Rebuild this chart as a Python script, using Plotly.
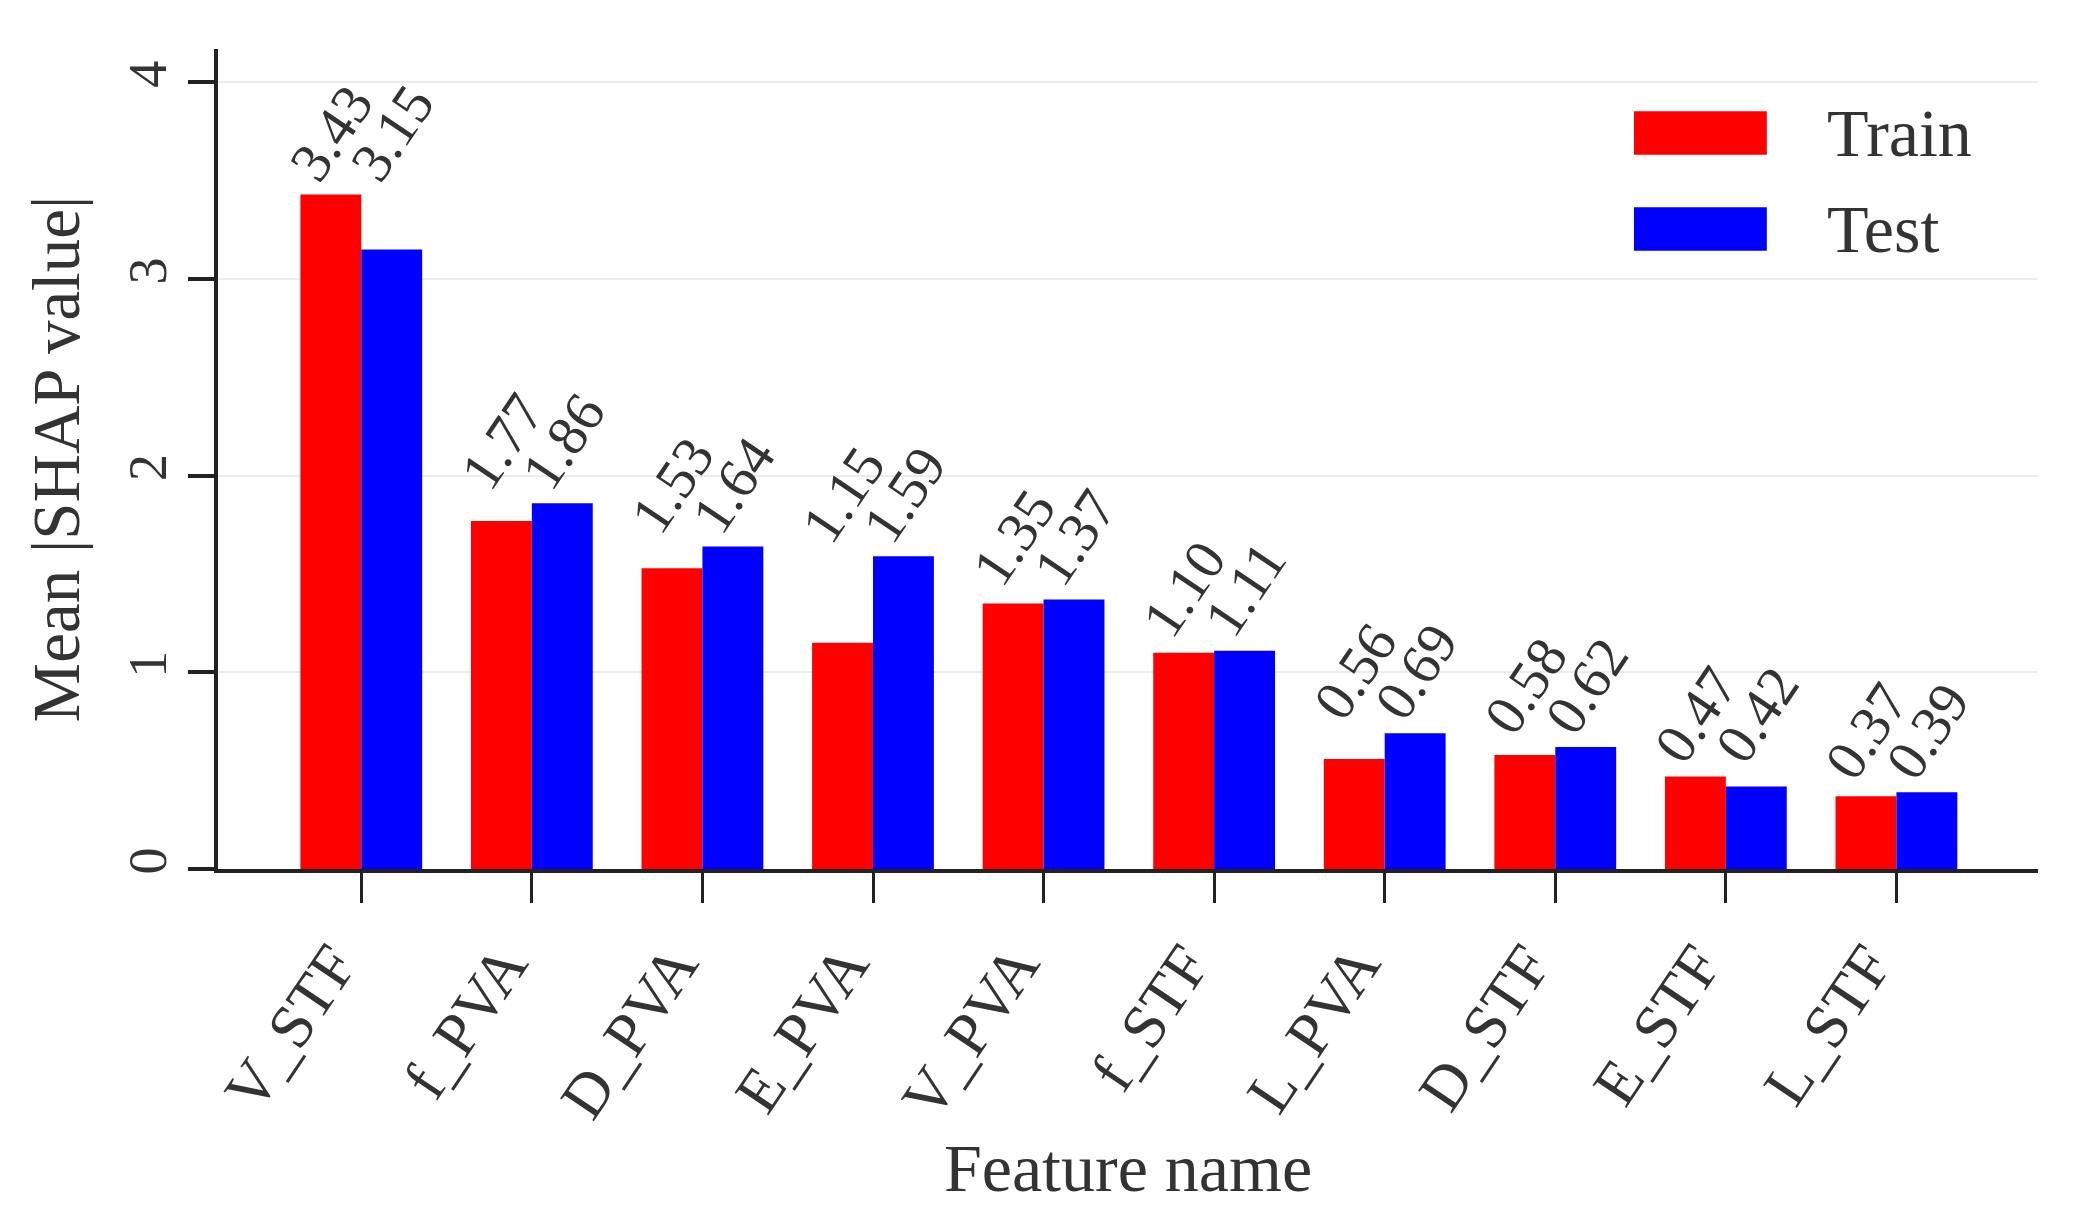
import plotly.graph_objects as go

features = ["V_STF", "f_PVA", "D_PVA", "E_PVA", "V_PVA",
            "f_STF", "L_PVA", "D_STF", "E_STF", "L_STF"]
train_vals = [3.43, 1.77, 1.53, 1.15, 1.35, 1.10, 0.56, 0.58, 0.47, 0.37]
test_vals = [3.15, 1.86, 1.64, 1.59, 1.37, 1.11, 0.69, 0.62, 0.42, 0.39]

FONT = "Liberation Serif"

fig = go.Figure()
fig.add_trace(go.Bar(x=features, y=train_vals, name="Train", marker_color="#ff0000",
                     marker_line_width=0))
fig.add_trace(go.Bar(x=features, y=test_vals, name="Test", marker_color="#0000ff",
                     marker_line_width=0))

# value labels sit at the height of the taller bar of each pair
for feat, tr, te in zip(features, train_vals, test_vals):
    top = max(tr, te)
    for val, shift in [(tr, -30), (te, 31)]:
        fig.add_annotation(x=feat, y=top, text=f"{val:.2f}", showarrow=False,
                           xshift=shift, yshift=62, textangle=-56,
                           xanchor="center", yanchor="middle",
                           font=dict(family=FONT, size=57, color="#333333"))

# legend drawn by hand so the swatches are wide like the original
legend_items = [("Train", "#ff0000", 0.924, 0.871), ("Test", "#0000ff", 0.807, 0.754)]
for name, col, y1, y0 in legend_items:
    fig.add_shape(type="rect", xref="paper", yref="paper", x0=0.778, x1=0.851,
                  y0=y0, y1=y1, fillcolor=col, line_width=0)
    fig.add_annotation(xref="paper", yref="paper", x=0.883, y=(y0 + y1) / 2,
                       text=name, showarrow=False, xanchor="left", yanchor="middle",
                       font=dict(family=FONT, size=68, color="#333333"))

fig.update_layout(
    template="none",
    width=2076, height=1211,
    margin=dict(l=210, r=46, t=41, b=350),
    barmode="group", bargap=0.286, bargroupgap=0,
    showlegend=False,
    plot_bgcolor="white", paper_bgcolor="white",
    font=dict(family=FONT, color="#333333"),
)
fig.update_xaxes(
    range=[-0.84, 9.83], automargin=False,
    showline=True, linecolor="#222222", linewidth=4,
    ticks="outside", ticklen=30, tickwidth=3, tickcolor="#222222",
    tickangle=-56, tickfont=dict(family=FONT, size=62), ticklabelshift=-28,
    showgrid=False,
    title=dict(text="Feature name", font=dict(family=FONT, size=68), standoff=0),
)
fig.update_yaxes(
    range=[0, 4.17], automargin=False,
    tickvals=[0, 1, 2, 3, 4],
    showline=True, linecolor="#222222", linewidth=4,
    ticks="outside", ticklen=26, tickwidth=4, tickcolor="#222222",
    tickangle=-90, tickfont=dict(family=FONT, size=54),
    showgrid=True, gridcolor="#ececec", gridwidth=2, zeroline=False,
    title=dict(text="Mean |SHAP value|", font=dict(family=FONT, size=67), standoff=18),
)

fig.write_html("out.html")
